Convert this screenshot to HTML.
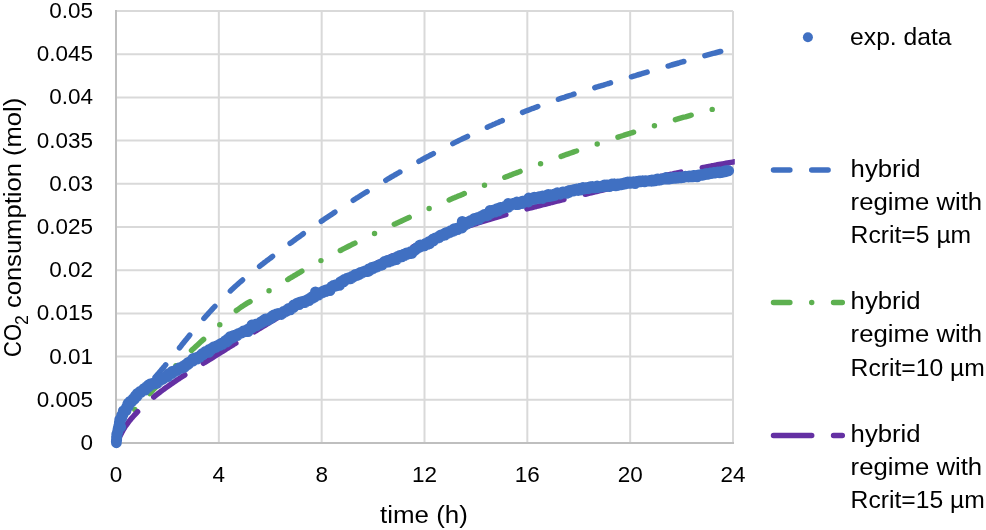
<!DOCTYPE html>
<html lang="en"><head><meta charset="utf-8"><title>CO2 consumption vs time</title>
<style>html,body{margin:0;padding:0;background:#fff}svg{display:block}</style></head>
<body>
<svg width="986" height="530" viewBox="0 0 986 530">
<rect width="986" height="530" fill="#fff"/>
<path d="M116.0 11.00H733.0M116.0 54.20H733.0M116.0 97.40H733.0M116.0 140.60H733.0M116.0 183.80H733.0M116.0 227.00H733.0M116.0 270.20H733.0M116.0 313.40H733.0M116.0 356.60H733.0M116.0 399.80H733.0M218.83 11.0V443.0M321.67 11.0V443.0M424.50 11.0V443.0M527.33 11.0V443.0M630.17 11.0V443.0M733.00 11.0V443.0" stroke="#D9D9D9" stroke-width="2" fill="none"/>
<path d="M116.0 10.0V444.0M115.0 443.0H734.0" stroke="#BFBFBF" stroke-width="2" fill="none"/>
<defs><clipPath id="pc"><rect x="110.0" y="0" width="624.8" height="451.0"/></clipPath></defs>
<g fill="none" stroke-width="5.46" stroke-linecap="round" stroke-linejoin="round">
<path d="M116.0 443.0 L116.1 441.1 L116.3 439.2 L116.6 437.3 L116.9 435.4 L117.3 433.6 L117.7 431.7 L118.2 429.9 L118.8 428.1 L119.4 426.4 L120.0 424.6 L120.7 422.9 L121.4 421.2 L122.2 419.5 L123.0 417.8 L123.9 416.2 L124.7 414.6 L125.7 413.0 L126.6 411.4 L127.6 409.8 L128.7 408.3 L129.7 406.7 L130.8 405.2 L131.9 403.7 L133.0 402.2 L134.1 400.8 L135.3 399.3 L136.5 397.9 L137.7 396.4 L138.9 395.0 L140.1 393.6 L141.3 392.2 L142.6 390.8 L143.8 389.4 L145.1 388.0 L146.4 386.7 L147.6 385.3 L148.9 383.9 L150.2 382.5 L151.5 381.1 L152.7 379.8 L154.0 378.4 L155.2 377.0 L156.5 375.6 L157.7 374.2 L159.0 372.8 L160.2 371.4 L161.4 369.9 L162.6 368.5 L163.8 367.1 L165.0 365.6 L166.2 364.2 L167.4 362.8 L168.6 361.3 L169.8 359.9 L171.0 358.4 L172.2 357.0 L173.3 355.5 L174.5 354.1 L175.7 352.6 L176.9 351.1 L178.0 349.7 L179.2 348.2 L180.4 346.8 L181.5 345.3 L182.7 343.8 L183.9 342.4 L185.0 340.9 L186.2 339.5 L187.4 338.0 L188.6 336.6 L189.7 335.1 L190.9 333.7 L192.1 332.3 L193.3 330.8 L194.5 329.4 L195.7 328.0 L196.9 326.5 L198.1 325.1 L199.3 323.7 L200.6 322.3 L201.8 320.9 L203.0 319.5 L204.2 318.1 L205.5 316.7 L206.7 315.3 L208.0 313.9 L209.2 312.5 L210.5 311.1 L211.8 309.8 L213.0 308.4 L214.3 307.0 L215.6 305.7 L216.9 304.3 L218.2 303.0 L219.5 301.6 L220.8 300.3 L222.2 299.0 L223.5 297.6 L224.8 296.3 L226.2 295.0 L227.5 293.7 L228.9 292.4 L230.2 291.1 L231.6 289.8 L233.0 288.5 L234.3 287.3 L235.7 286.0 L237.1 284.8 L238.5 283.5 L239.9 282.3 L241.3 281.1 L242.7 279.9 L244.1 278.7 L245.6 277.5 L247.0 276.3 L248.4 275.1 L249.9 274.0 L251.3 272.8 L252.8 271.7 L254.2 270.5 L255.7 269.4 L257.1 268.2 L258.6 267.1 L260.1 265.9 L261.5 264.8 L263.0 263.7 L264.5 262.5 L266.0 261.4 L267.5 260.2 L269.0 259.1 L270.5 258.0 L272.0 256.8 L273.5 255.7 L275.0 254.5 L276.5 253.4 L278.0 252.3 L279.5 251.1 L281.0 250.0 L282.5 248.9 L284.1 247.8 L285.6 246.6 L287.1 245.5 L288.6 244.4 L290.1 243.3 L291.7 242.2 L293.2 241.1 L294.7 240.0 L296.2 238.9 L297.7 237.8 L299.3 236.7 L300.8 235.6 L302.3 234.5 L303.8 233.4 L305.4 232.3 L306.9 231.3 L308.4 230.2 L310.0 229.1 L311.5 228.0 L313.0 227.0 L314.6 225.9 L316.1 224.9 L317.6 223.8 L319.2 222.7 L320.7 221.7 L322.2 220.6 L323.8 219.6 L325.3 218.6 L326.9 217.5 L328.4 216.5 L329.9 215.5 L331.5 214.4 L333.0 213.4 L334.6 212.4 L336.1 211.3 L337.7 210.3 L339.2 209.3 L340.8 208.3 L342.3 207.3 L343.9 206.3 L345.5 205.2 L347.0 204.2 L348.6 203.2 L350.1 202.2 L351.7 201.2 L353.3 200.2 L354.8 199.2 L356.4 198.2 L358.0 197.3 L359.6 196.3 L361.1 195.3 L362.7 194.3 L364.3 193.3 L365.9 192.3 L367.5 191.4 L369.0 190.4 L370.6 189.4 L372.2 188.4 L373.8 187.5 L375.4 186.5 L377.0 185.5 L378.6 184.6 L380.2 183.6 L381.8 182.6 L383.4 181.7 L385.0 180.7 L386.6 179.8 L388.2 178.8 L389.8 177.9 L391.4 176.9 L393.1 176.0 L394.7 175.0 L396.3 174.1 L397.9 173.2 L399.5 172.2 L401.2 171.3 L402.8 170.4 L404.4 169.4 L406.0 168.5 L407.7 167.6 L409.3 166.7 L410.9 165.8 L412.6 164.9 L414.2 163.9 L415.9 163.0 L417.5 162.1 L419.1 161.2 L420.8 160.3 L422.4 159.4 L424.1 158.5 L425.7 157.6 L427.4 156.7 L429.0 155.9 L430.7 155.0 L432.4 154.1 L434.0 153.2 L435.7 152.3 L437.3 151.5 L439.0 150.6 L440.7 149.7 L442.3 148.9 L444.0 148.0 L445.7 147.2 L447.4 146.3 L449.0 145.5 L450.7 144.6 L452.4 143.8 L454.1 142.9 L455.7 142.1 L457.4 141.3 L459.1 140.4 L460.8 139.6 L462.5 138.8 L464.2 138.0 L465.9 137.2 L467.6 136.4 L469.2 135.5 L470.9 134.7 L472.6 133.9 L474.3 133.1 L476.0 132.3 L477.7 131.6 L479.4 130.8 L481.1 130.0 L482.8 129.2 L484.5 128.4 L486.3 127.7 L488.0 126.9 L489.7 126.1 L491.4 125.4 L493.1 124.6 L494.8 123.9 L496.5 123.1 L498.2 122.4 L500.0 121.6 L501.7 120.9 L503.4 120.2 L505.1 119.4 L506.9 118.7 L508.6 118.0 L510.3 117.3 L512.0 116.6 L513.8 115.9 L515.5 115.2 L517.2 114.5 L519.0 113.8 L520.7 113.1 L522.4 112.4 L524.2 111.7 L525.9 111.0 L527.6 110.4 L529.4 109.7 L531.1 109.0 L532.9 108.4 L534.6 107.7 L536.3 107.1 L538.1 106.4 L539.8 105.8 L541.6 105.1 L543.3 104.5 L545.1 103.9 L546.8 103.3 L548.6 102.6 L550.3 102.0 L552.1 101.4 L553.8 100.8 L555.6 100.2 L557.4 99.6 L559.1 99.0 L560.9 98.4 L562.6 97.8 L564.4 97.3 L566.2 96.7 L567.9 96.1 L569.7 95.5 L571.4 95.0 L573.2 94.4 L575.0 93.8 L576.7 93.3 L578.5 92.7 L580.3 92.1 L582.1 91.6 L583.8 91.0 L585.6 90.5 L587.4 89.9 L589.1 89.4 L590.9 88.8 L592.7 88.3 L594.5 87.8 L596.3 87.2 L598.0 86.7 L599.8 86.1 L601.6 85.6 L603.4 85.1 L605.2 84.5 L606.9 84.0 L608.7 83.5 L610.5 82.9 L612.3 82.4 L614.1 81.9 L615.9 81.4 L617.6 80.8 L619.4 80.3 L621.2 79.8 L623.0 79.3 L624.8 78.7 L626.6 78.2 L628.4 77.7 L630.2 77.1 L632.0 76.6 L633.7 76.1 L635.5 75.6 L637.3 75.0 L639.1 74.5 L640.9 74.0 L642.7 73.4 L644.5 72.9 L646.3 72.4 L648.1 71.9 L649.9 71.3 L651.7 70.8 L653.5 70.3 L655.3 69.7 L657.1 69.2 L658.9 68.7 L660.7 68.2 L662.5 67.6 L664.3 67.1 L666.1 66.6 L667.9 66.1 L669.7 65.6 L671.5 65.0 L673.3 64.5 L675.1 64.0 L676.9 63.5 L678.7 63.0 L680.5 62.4 L682.4 61.9 L684.2 61.4 L686.0 60.9 L687.8 60.4 L689.6 59.9 L691.4 59.4 L693.2 58.9 L695.0 58.4 L696.8 57.9 L698.6 57.4 L700.4 56.9 L702.2 56.4 L704.1 55.9 L705.9 55.4 L707.7 54.9 L709.5 54.4 L711.3 53.9 L713.1 53.4 L714.9 53.0 L716.7 52.5 L718.5 52.0 L720.4 51.5 L722.2 51.0" stroke="#4070C2" stroke-dashoffset="-1.8" stroke-dasharray="16.38 21.84"/>
<path d="M116.0 443.0 L115.9 441.0 L116.0 439.1 L116.2 437.2 L116.4 435.4 L116.8 433.7 L117.3 432.0 L117.9 430.4 L118.6 428.8 L119.3 427.3 L120.1 425.8 L121.0 424.4 L122.0 423.0 L123.0 421.6 L124.0 420.3 L125.1 419.0 L126.3 417.7 L127.5 416.5 L128.7 415.2 L129.9 414.0 L131.1 412.8 L132.4 411.7 L133.7 410.5 L134.9 409.3 L136.2 408.0 L137.4 406.8 L138.6 405.5 L139.9 404.3 L141.1 403.0 L142.3 401.7 L143.5 400.4 L144.7 399.1 L145.9 397.8 L147.2 396.5 L148.4 395.2 L149.5 393.9 L150.7 392.6 L151.9 391.3 L153.1 390.0 L154.3 388.7 L155.5 387.4 L156.7 386.1 L157.9 384.8 L159.1 383.5 L160.3 382.2 L161.5 380.9 L162.7 379.6 L163.9 378.3 L165.1 377.0 L166.3 375.8 L167.5 374.5 L168.7 373.2 L169.9 371.9 L171.1 370.7 L172.3 369.4 L173.6 368.1 L174.8 366.9 L176.0 365.6 L177.3 364.4 L178.5 363.1 L179.8 361.9 L181.0 360.6 L182.3 359.4 L183.5 358.2 L184.8 356.9 L186.1 355.7 L187.3 354.5 L188.6 353.3 L189.9 352.1 L191.1 350.8 L192.4 349.6 L193.7 348.4 L195.0 347.2 L196.3 346.0 L197.5 344.9 L198.8 343.7 L200.1 342.5 L201.4 341.3 L202.7 340.2 L204.0 339.0 L205.2 337.8 L206.5 336.7 L207.8 335.5 L209.1 334.4 L210.4 333.2 L211.7 332.0 L213.0 330.9 L214.3 329.7 L215.6 328.6 L216.9 327.4 L218.2 326.2 L219.5 325.0 L220.8 323.8 L222.2 322.6 L223.5 321.4 L224.8 320.2 L226.2 319.0 L227.5 317.8 L228.9 316.6 L230.2 315.5 L231.6 314.3 L233.0 313.2 L234.3 312.1 L235.7 311.0 L237.1 309.9 L238.6 308.9 L240.0 307.9 L241.4 306.9 L242.8 306.0 L244.3 305.0 L245.7 304.1 L247.2 303.2 L248.7 302.3 L250.1 301.5 L251.6 300.6 L253.1 299.7 L254.6 298.9 L256.1 298.1 L257.6 297.2 L259.1 296.4 L260.6 295.5 L262.1 294.7 L263.6 293.9 L265.1 293.0 L266.6 292.1 L268.2 291.3 L269.7 290.4 L271.2 289.5 L272.7 288.6 L274.3 287.7 L275.8 286.8 L277.3 285.8 L278.9 284.9 L280.4 284.0 L281.9 283.0 L283.5 282.1 L285.0 281.2 L286.5 280.2 L288.1 279.3 L289.6 278.4 L291.1 277.5 L292.7 276.6 L294.2 275.7 L295.7 274.8 L297.2 273.9 L298.8 273.0 L300.3 272.1 L301.8 271.2 L303.4 270.4 L304.9 269.5 L306.4 268.6 L307.9 267.8 L309.5 266.9 L311.0 266.1 L312.5 265.2 L314.1 264.4 L315.6 263.5 L317.1 262.7 L318.7 261.9 L320.2 261.0 L321.7 260.2 L323.3 259.4 L324.8 258.6 L326.4 257.7 L327.9 256.9 L329.5 256.1 L331.0 255.3 L332.6 254.5 L334.1 253.7 L335.7 252.9 L337.2 252.1 L338.8 251.3 L340.3 250.5 L341.9 249.7 L343.4 248.9 L345.0 248.1 L346.6 247.3 L348.1 246.5 L349.7 245.7 L351.3 244.9 L352.8 244.1 L354.4 243.4 L356.0 242.6 L357.6 241.8 L359.1 241.0 L360.7 240.2 L362.3 239.5 L363.9 238.7 L365.4 237.9 L367.0 237.2 L368.6 236.4 L370.2 235.6 L371.8 234.9 L373.4 234.1 L374.9 233.4 L376.5 232.6 L378.1 231.9 L379.7 231.1 L381.3 230.4 L382.9 229.6 L384.5 228.9 L386.1 228.1 L387.6 227.4 L389.2 226.6 L390.8 225.9 L392.4 225.2 L394.0 224.4 L395.6 223.7 L397.2 222.9 L398.8 222.2 L400.4 221.5 L402.0 220.7 L403.6 220.0 L405.2 219.3 L406.8 218.6 L408.4 217.8 L410.0 217.1 L411.6 216.4 L413.2 215.7 L414.8 215.0 L416.4 214.2 L418.0 213.5 L419.6 212.8 L421.2 212.1 L422.8 211.4 L424.4 210.7 L426.1 210.0 L427.7 209.3 L429.3 208.5 L430.9 207.8 L432.5 207.1 L434.1 206.4 L435.7 205.7 L437.3 205.0 L438.9 204.3 L440.6 203.6 L442.2 203.0 L443.8 202.3 L445.4 201.6 L447.0 200.9 L448.6 200.2 L450.2 199.5 L451.9 198.8 L453.5 198.1 L455.1 197.4 L456.7 196.8 L458.3 196.1 L460.0 195.4 L461.6 194.7 L463.2 194.1 L464.8 193.4 L466.5 192.7 L468.1 192.0 L469.7 191.4 L471.3 190.7 L473.0 190.0 L474.6 189.4 L476.2 188.7 L477.8 188.0 L479.5 187.4 L481.1 186.7 L482.7 186.1 L484.3 185.4 L486.0 184.8 L487.6 184.1 L489.2 183.4 L490.9 182.8 L492.5 182.1 L494.1 181.5 L495.8 180.9 L497.4 180.2 L499.0 179.6 L500.7 178.9 L502.3 178.3 L504.0 177.6 L505.6 177.0 L507.2 176.4 L508.9 175.7 L510.5 175.1 L512.1 174.5 L513.8 173.8 L515.4 173.2 L517.1 172.6 L518.7 172.0 L520.4 171.3 L522.0 170.7 L523.6 170.1 L525.3 169.5 L526.9 168.9 L528.6 168.2 L530.2 167.6 L531.9 167.0 L533.5 166.4 L535.2 165.8 L536.8 165.2 L538.5 164.6 L540.1 164.0 L541.8 163.4 L543.4 162.7 L545.1 162.1 L546.7 161.5 L548.4 160.9 L550.0 160.3 L551.7 159.7 L553.3 159.2 L555.0 158.6 L556.6 158.0 L558.3 157.4 L559.9 156.8 L561.6 156.2 L563.3 155.6 L564.9 155.0 L566.6 154.4 L568.2 153.9 L569.9 153.3 L571.5 152.7 L573.2 152.1 L574.9 151.5 L576.5 151.0 L578.2 150.4 L579.8 149.8 L581.5 149.3 L583.2 148.7 L584.8 148.1 L586.5 147.6 L588.2 147.0 L589.8 146.4 L591.5 145.9 L593.2 145.3 L594.8 144.7 L596.5 144.2 L598.2 143.6 L599.8 143.1 L601.5 142.5 L603.2 142.0 L604.8 141.4 L606.5 140.9 L608.2 140.3 L609.8 139.8 L611.5 139.2 L613.2 138.7 L614.9 138.2 L616.5 137.6 L618.2 137.1 L619.9 136.5 L621.6 136.0 L623.2 135.5 L624.9 134.9 L626.6 134.4 L628.3 133.9 L629.9 133.4 L631.6 132.8 L633.3 132.3 L635.0 131.8 L636.6 131.3 L638.3 130.7 L640.0 130.2 L641.7 129.7 L643.4 129.2 L645.0 128.7 L646.7 128.2 L648.4 127.6 L650.1 127.1 L651.8 126.6 L653.4 126.1 L655.1 125.6 L656.8 125.1 L658.5 124.6 L660.2 124.1 L661.9 123.6 L663.6 123.1 L665.2 122.6 L666.9 122.1 L668.6 121.6 L670.3 121.1 L672.0 120.6 L673.7 120.1 L675.4 119.7 L677.1 119.2 L678.7 118.7 L680.4 118.2 L682.1 117.7 L683.8 117.2 L685.5 116.8 L687.2 116.3 L688.9 115.8 L690.6 115.3 L692.3 114.9 L694.0 114.4 L695.7 113.9 L697.3 113.4 L699.0 113.0 L700.7 112.5 L702.4 112.0 L704.1 111.6 L705.8 111.1 L707.5 110.7 L709.2 110.2 L710.9 109.7 L712.6 109.3" stroke="#5DB050" stroke-dashoffset="-1.8" stroke-dasharray="16.38 21.84 0 21.84"/>
<path clip-path="url(#pc)" d="M116.0 443.0 L117.0 441.5 L118.0 439.9 L118.8 438.3 L119.6 436.8 L120.4 435.2 L121.2 433.7 L122.0 432.1 L122.8 430.6 L123.7 429.1 L124.6 427.7 L125.5 426.2 L126.5 424.8 L127.6 423.3 L128.6 421.9 L129.7 420.6 L130.8 419.2 L132.0 417.8 L133.2 416.5 L134.4 415.2 L135.6 413.9 L136.8 412.6 L138.0 411.3 L139.3 410.1 L140.5 408.8 L141.8 407.6 L143.1 406.4 L144.4 405.2 L145.7 404.0 L147.0 402.8 L148.3 401.6 L149.6 400.5 L151.0 399.4 L152.3 398.2 L153.7 397.1 L155.0 396.0 L156.4 394.9 L157.8 393.8 L159.2 392.8 L160.6 391.7 L162.0 390.6 L163.4 389.6 L164.8 388.5 L166.2 387.5 L167.7 386.5 L169.1 385.5 L170.5 384.5 L172.0 383.5 L173.4 382.5 L174.9 381.5 L176.3 380.5 L177.8 379.5 L179.3 378.6 L180.8 377.6 L182.2 376.6 L183.7 375.7 L185.2 374.7 L186.7 373.8 L188.2 372.8 L189.7 371.9 L191.1 370.9 L192.6 370.0 L194.1 369.1 L195.6 368.1 L197.1 367.2 L198.6 366.3 L200.1 365.3 L201.6 364.4 L203.1 363.5 L204.6 362.5 L206.2 361.6 L207.7 360.7 L209.2 359.7 L210.7 358.8 L212.2 357.9 L213.7 356.9 L215.2 356.0 L216.7 355.0 L218.2 354.1 L219.7 353.2 L221.2 352.2 L222.7 351.3 L224.2 350.4 L225.7 349.4 L227.2 348.5 L228.7 347.6 L230.2 346.6 L231.7 345.7 L233.2 344.8 L234.7 343.8 L236.3 342.9 L237.8 342.0 L239.3 341.0 L240.8 340.1 L242.3 339.2 L243.8 338.3 L245.3 337.3 L246.8 336.4 L248.3 335.5 L249.8 334.5 L251.3 333.6 L252.9 332.7 L254.4 331.8 L255.9 330.8 L257.4 329.9 L258.9 329.0 L260.4 328.1 L261.9 327.2 L263.5 326.2 L265.0 325.3 L266.5 324.4 L268.0 323.5 L269.5 322.6 L271.0 321.6 L272.6 320.7 L274.1 319.8 L275.6 318.9 L277.1 318.0 L278.6 317.1 L280.2 316.2 L281.7 315.3 L283.2 314.4 L284.7 313.5 L286.3 312.6 L287.8 311.7 L289.3 310.8 L290.8 309.9 L292.4 309.0 L293.9 308.1 L295.4 307.2 L297.0 306.3 L298.5 305.4 L300.0 304.5 L301.5 303.6 L303.1 302.7 L304.6 301.8 L306.2 301.0 L307.7 300.1 L309.2 299.2 L310.8 298.3 L312.3 297.4 L313.8 296.6 L315.4 295.7 L316.9 294.8 L318.5 294.0 L320.0 293.1 L321.5 292.2 L323.1 291.4 L324.6 290.5 L326.2 289.7 L327.7 288.8 L329.3 288.0 L330.8 287.1 L332.4 286.3 L333.9 285.4 L335.5 284.6 L337.0 283.7 L338.6 282.9 L340.1 282.1 L341.7 281.2 L343.2 280.4 L344.8 279.6 L346.4 278.7 L347.9 277.9 L349.5 277.1 L351.0 276.3 L352.6 275.5 L354.2 274.7 L355.7 273.9 L357.3 273.0 L358.9 272.2 L360.4 271.4 L362.0 270.6 L363.6 269.9 L365.2 269.1 L366.7 268.3 L368.3 267.5 L369.9 266.7 L371.5 265.9 L373.0 265.2 L374.6 264.4 L376.2 263.6 L377.8 262.8 L379.4 262.1 L380.9 261.3 L382.5 260.6 L384.1 259.8 L385.7 259.1 L387.3 258.3 L388.9 257.6 L390.5 256.8 L392.1 256.1 L393.7 255.4 L395.3 254.6 L396.9 253.9 L398.5 253.2 L400.1 252.5 L401.7 251.8 L403.3 251.0 L404.9 250.3 L406.5 249.6 L408.1 248.9 L409.7 248.2 L411.3 247.5 L412.9 246.9 L414.6 246.2 L416.2 245.5 L417.8 244.8 L419.4 244.1 L421.0 243.5 L422.6 242.8 L424.3 242.2 L425.9 241.5 L427.5 240.9 L429.2 240.2 L430.8 239.6 L432.4 238.9 L434.1 238.3 L435.7 237.7 L437.3 237.0 L439.0 236.4 L440.6 235.8 L442.2 235.2 L443.9 234.6 L445.5 234.0 L447.2 233.4 L448.8 232.8 L450.5 232.2 L452.1 231.6 L453.8 231.0 L455.4 230.4 L457.1 229.9 L458.7 229.3 L460.4 228.7 L462.1 228.2 L463.7 227.6 L465.4 227.1 L467.1 226.5 L468.7 226.0 L470.4 225.4 L472.1 224.9 L473.7 224.3 L475.4 223.8 L477.1 223.3 L478.8 222.7 L480.4 222.2 L482.1 221.7 L483.8 221.2 L485.5 220.7 L487.1 220.2 L488.8 219.7 L490.5 219.1 L492.2 218.6 L493.9 218.1 L495.6 217.7 L497.3 217.2 L498.9 216.7 L500.6 216.2 L502.3 215.7 L504.0 215.2 L505.7 214.7 L507.4 214.3 L509.1 213.8 L510.8 213.3 L512.5 212.8 L514.2 212.4 L515.9 211.9 L517.6 211.4 L519.3 211.0 L521.0 210.5 L522.7 210.1 L524.4 209.6 L526.1 209.1 L527.8 208.7 L529.5 208.2 L531.2 207.8 L533.0 207.3 L534.7 206.9 L536.4 206.5 L538.1 206.0 L539.8 205.6 L541.5 205.1 L543.2 204.7 L544.9 204.3 L546.7 203.8 L548.4 203.4 L550.1 203.0 L551.8 202.5 L553.5 202.1 L555.2 201.7 L557.0 201.2 L558.7 200.8 L560.4 200.4 L562.1 199.9 L563.8 199.5 L565.6 199.1 L567.3 198.7 L569.0 198.3 L570.7 197.8 L572.5 197.4 L574.2 197.0 L575.9 196.6 L577.6 196.1 L579.4 195.7 L581.1 195.3 L582.8 194.9 L584.5 194.5 L586.3 194.0 L588.0 193.6 L589.7 193.2 L591.4 192.8 L593.2 192.4 L594.9 191.9 L596.6 191.5 L598.4 191.1 L600.1 190.7 L601.8 190.3 L603.6 189.9 L605.3 189.4 L607.0 189.0 L608.7 188.6 L610.5 188.2 L612.2 187.8 L613.9 187.4 L615.7 186.9 L617.4 186.5 L619.1 186.1 L620.9 185.7 L622.6 185.3 L624.3 184.9 L626.1 184.5 L627.8 184.1 L629.5 183.7 L631.2 183.3 L633.0 182.9 L634.7 182.5 L636.4 182.0 L638.2 181.6 L639.9 181.2 L641.6 180.8 L643.4 180.4 L645.1 180.0 L646.8 179.7 L648.5 179.3 L650.3 178.9 L652.0 178.5 L653.7 178.1 L655.5 177.7 L657.2 177.3 L658.9 176.9 L660.6 176.5 L662.4 176.1 L664.1 175.8 L665.8 175.4 L667.6 175.0 L669.3 174.6 L671.0 174.2 L672.7 173.9 L674.5 173.5 L676.2 173.1 L677.9 172.8 L679.6 172.4 L681.3 172.0 L683.1 171.7 L684.8 171.3 L686.5 170.9 L688.2 170.6 L689.9 170.2 L691.7 169.9 L693.4 169.5 L695.1 169.2 L696.8 168.8 L698.5 168.5 L700.3 168.1 L702.0 167.8 L703.7 167.4 L705.4 167.1 L707.1 166.8 L708.8 166.4 L710.5 166.1 L712.2 165.8 L714.0 165.5 L715.7 165.1 L717.4 164.8 L719.1 164.5 L720.8 164.2 L722.5 163.9 L724.2 163.6 L725.9 163.3 L727.6 163.0 L729.3 162.7 L731.0 162.4 L732.7 162.1 L734.4 161.8 L736.1 161.5 L737.8 161.2 L739.5 160.9 L741.2 160.6 L742.9 160.4 L744.6 160.1" stroke="#6430A3" stroke-dasharray="38.22 21.84"/>
</g>
<path d="M116.4 442.8h0M116.4 442.5h0M116.3 442.1h0M116.3 441.8h0M116.3 441.5h0M116.3 441.1h0M116.5 440.8h0M116.7 440.5h0M116.4 440.2h0M116.4 439.8h0M116.6 439.5h0M116.7 439.2h0M116.6 438.8h0M116.5 438.5h0M116.7 438.2h0M116.8 437.9h0M116.5 437.5h0M116.7 437.2h0M116.5 436.8h0M116.6 436.5h0M116.6 436.2h0M116.9 435.9h0M116.8 435.5h0M117.1 435.2h0M117.1 434.9h0M117.1 434.6h0M116.7 434.2h0M117.2 433.9h0M117.3 433.6h0M117.4 433.3h0M117.2 432.9h0M117.4 432.6h0M117.4 432.3h0M117.5 432.0h0M118.0 431.7h0M117.6 431.3h0M117.9 431.0h0M118.2 430.7h0M117.9 430.4h0M118.1 430.1h0M118.2 429.7h0M118.3 429.4h0M118.0 429.0h0M118.4 428.8h0M118.8 428.5h0M118.2 428.0h0M118.8 427.9h0M118.7 427.5h0M118.6 427.1h0M119.4 427.0h0M120.8 427.0h0M118.7 426.1h0M119.1 425.9h0M119.3 425.6h0M119.1 425.2h0M119.6 425.0h0M119.3 424.6h0M119.5 424.3h0M119.8 424.1h0M119.3 423.5h0M119.6 423.3h0M119.4 422.9h0M119.7 422.6h0M119.3 422.2h0M119.6 421.9h0M119.8 421.6h0M120.2 421.4h0M120.4 421.1h0M119.7 420.5h0M119.9 420.3h0M120.5 420.1h0M119.7 419.5h0M120.3 419.3h0M120.6 419.1h0M121.2 418.9h0M121.1 418.6h0M120.8 418.1h0M120.9 417.8h0M121.1 417.5h0M121.9 417.4h0M121.3 416.8h0M121.4 416.5h0M121.8 416.3h0M121.8 416.0h0M121.9 415.6h0M121.6 415.2h0M122.2 415.1h0M122.2 414.7h0M123.0 414.7h0M122.9 414.3h0M122.8 413.9h0M123.2 413.7h0M122.9 413.2h0M123.7 413.2h0M123.4 412.7h0M123.9 412.5h0M123.2 411.8h0M124.1 411.9h0M123.3 411.2h0M123.3 410.8h0M124.3 410.9h0M124.2 410.5h0M124.9 410.5h0M126.1 410.8h0M124.8 409.7h0M125.1 409.5h0M125.7 409.4h0M126.1 409.2h0M125.9 408.8h0M126.1 408.5h0M126.7 408.5h0M126.8 408.2h0M126.3 407.5h0M126.9 407.5h0M127.2 407.2h0M126.8 406.6h0M127.6 406.7h0M127.3 406.1h0M128.3 406.4h0M128.1 405.8h0M128.2 405.5h0M128.1 405.0h0M128.4 404.9h0M127.7 404.0h0M128.3 404.0h0M129.1 404.2h0M128.2 403.1h0M129.7 403.8h0M128.7 402.7h0M130.0 403.2h0M129.5 402.4h0M130.4 402.7h0M130.4 402.2h0M129.9 401.4h0M131.3 402.1h0M131.6 402.0h0M131.2 401.2h0M131.4 400.9h0M131.7 400.7h0M131.6 400.2h0M132.7 400.7h0M132.3 399.9h0M132.7 399.9h0M132.6 399.4h0M132.9 399.2h0M132.9 398.7h0M134.2 399.4h0M133.8 398.7h0M134.5 398.8h0M134.3 398.2h0M134.3 397.7h0M134.6 397.6h0M134.7 397.3h0M135.2 397.2h0M135.2 396.8h0M135.5 396.6h0M135.3 395.9h0M135.7 395.9h0M136.8 396.6h0M136.2 395.4h0M136.3 395.0h0M137.0 395.3h0M137.6 395.5h0M136.8 394.1h0M137.5 394.4h0M137.6 394.0h0M137.4 393.3h0M138.5 394.1h0M138.5 393.6h0M138.8 393.4h0M138.7 392.8h0M139.4 393.1h0M139.3 392.4h0M139.7 392.4h0M139.6 391.8h0M139.9 391.5h0M141.0 392.4h0M140.6 391.4h0M141.1 391.6h0M141.3 391.3h0M141.4 390.9h0M141.7 390.7h0M142.3 391.0h0M142.3 390.4h0M142.6 390.3h0M142.9 390.1h0M143.6 390.5h0M143.7 390.1h0M143.8 389.7h0M143.8 389.1h0M143.8 388.6h0M145.2 390.1h0M145.1 389.2h0M145.0 388.5h0M145.5 388.7h0M145.8 388.6h0M146.1 388.4h0M146.4 388.2h0M146.2 387.4h0M147.0 388.1h0M146.5 386.6h0M147.4 387.4h0M147.5 387.0h0M147.9 387.0h0M148.4 387.3h0M148.6 386.9h0M148.2 385.5h0M148.3 385.0h0M149.3 386.1h0M149.1 385.1h0M149.6 385.4h0M150.2 385.7h0M149.8 384.3h0M150.0 384.0h0M150.9 385.0h0M151.2 384.8h0M151.4 384.5h0M151.8 384.6h0M151.9 384.0h0M152.0 383.6h0M152.7 384.2h0M152.8 383.7h0M152.9 383.2h0M153.8 384.2h0M154.0 383.8h0M154.4 383.9h0M154.3 383.1h0M154.7 383.1h0M154.9 382.8h0M155.3 382.7h0M155.9 383.1h0M155.9 382.5h0M156.5 382.8h0M156.7 382.7h0M157.5 383.3h0M156.8 381.5h0M157.7 382.4h0M157.7 381.7h0M158.0 381.6h0M157.9 380.7h0M158.4 380.9h0M159.0 381.3h0M159.0 380.7h0M159.3 380.6h0M159.5 380.2h0M160.2 380.7h0M160.1 380.0h0M159.8 378.8h0M160.5 379.3h0M160.4 378.5h0M160.3 377.7h0M161.4 378.9h0M162.2 379.6h0M162.1 378.8h0M162.1 378.1h0M162.4 378.1h0M163.3 378.9h0M163.3 378.3h0M163.6 378.1h0M163.8 377.9h0M164.2 377.8h0M164.7 378.0h0M164.9 377.8h0M165.1 377.5h0M165.0 376.7h0M165.7 377.3h0M165.7 376.6h0M166.5 377.2h0M166.1 376.0h0M166.7 376.3h0M167.0 376.2h0M166.9 375.4h0M168.1 376.7h0M168.3 376.4h0M168.0 375.3h0M168.6 375.7h0M168.8 375.3h0M168.2 373.7h0M169.3 374.9h0M169.4 374.5h0M169.7 374.4h0M169.7 373.6h0M170.1 373.8h0M170.4 373.6h0M171.1 374.1h0M171.1 373.5h0M171.3 373.1h0M172.0 373.6h0M171.6 372.5h0M171.9 372.3h0M171.8 371.5h0M173.0 372.9h0M173.1 372.4h0M173.4 372.2h0M173.6 371.9h0M173.7 371.5h0M174.1 371.4h0M174.2 371.0h0M174.5 370.9h0M174.9 370.9h0M175.6 371.4h0M175.6 370.8h0M175.7 370.4h0M175.9 370.0h0M176.2 369.8h0M177.1 370.7h0M177.1 370.1h0M177.2 369.7h0M177.4 369.4h0M177.5 368.9h0M178.1 369.2h0M178.6 369.5h0M178.6 368.7h0M178.9 368.7h0M179.2 368.5h0M179.6 368.5h0M179.4 367.6h0M180.1 368.0h0M180.2 367.6h0M181.0 368.3h0M180.8 367.3h0M181.5 367.8h0M182.0 368.1h0M181.8 367.1h0M182.0 366.8h0M182.6 367.1h0M182.8 366.8h0M182.8 366.2h0M183.5 366.8h0M184.3 367.4h0M183.9 366.1h0M184.2 366.0h0M184.3 365.4h0M184.9 365.9h0M184.8 365.0h0M185.1 364.9h0M186.0 365.8h0M185.7 364.5h0M186.5 365.3h0M186.9 365.3h0M186.8 364.5h0M187.1 364.4h0M187.8 364.8h0M187.4 363.6h0M187.6 363.3h0M187.6 362.7h0M188.3 363.2h0M189.0 363.7h0M189.1 363.2h0M188.8 362.2h0M189.1 362.0h0M189.5 362.0h0M190.0 362.2h0M190.2 361.8h0M190.6 361.8h0M190.8 361.6h0M190.9 361.2h0M191.3 361.1h0M191.6 361.0h0M191.8 360.7h0M192.2 360.7h0M192.9 361.2h0M192.8 360.4h0M192.9 359.9h0M192.7 358.9h0M193.6 359.7h0M193.2 358.4h0M193.6 358.5h0M194.5 359.4h0M194.8 359.2h0M194.9 358.7h0M194.7 357.8h0M195.4 358.3h0M195.6 358.1h0M196.3 358.6h0M197.1 359.2h0M196.8 358.1h0M196.9 357.6h0M197.1 357.2h0M197.7 357.7h0M198.0 357.5h0M198.0 356.9h0M198.7 357.3h0M198.6 356.6h0M199.5 357.5h0M199.8 357.3h0M200.1 357.2h0M199.9 356.2h0M200.5 356.5h0M200.6 356.0h0M200.8 355.7h0M201.1 355.5h0M201.0 354.9h0M201.3 354.6h0M202.2 355.4h0M202.1 354.8h0M202.5 354.7h0M203.0 354.9h0M202.5 353.4h0M203.0 353.7h0M203.5 353.9h0M203.9 353.8h0M203.9 353.3h0M204.6 353.8h0M204.7 353.2h0M204.5 352.3h0M204.9 352.3h0M205.7 353.0h0M205.9 352.7h0M205.5 351.4h0M206.7 352.8h0M206.8 352.3h0M207.3 352.5h0M207.1 351.5h0M207.4 351.4h0M207.5 350.8h0M208.8 352.4h0M208.3 350.9h0M209.1 351.6h0M208.8 350.4h0M209.3 350.6h0M209.0 349.5h0M209.7 350.0h0M210.3 350.4h0M210.0 349.2h0M210.9 350.1h0M210.9 349.5h0M210.8 348.7h0M211.3 348.8h0M211.6 348.6h0M212.0 348.6h0M212.1 348.2h0M212.3 347.9h0M212.7 348.0h0M212.8 347.5h0M213.0 347.2h0M213.7 347.7h0M214.2 348.0h0M213.9 346.7h0M214.6 347.3h0M214.7 346.8h0M214.9 346.5h0M215.7 347.2h0M215.6 346.4h0M216.5 347.3h0M216.2 346.0h0M216.8 346.5h0M216.9 346.0h0M217.1 345.6h0M217.8 346.2h0M217.9 345.7h0M218.4 345.9h0M218.5 345.5h0M218.5 344.9h0M219.1 345.2h0M219.5 345.2h0M220.0 345.5h0M219.8 344.4h0M220.4 344.7h0M220.2 343.8h0M220.6 343.8h0M221.0 343.8h0M221.1 343.3h0M221.9 344.0h0M222.5 344.4h0M222.0 343.0h0M222.4 343.0h0M222.8 343.0h0M223.0 342.7h0M223.7 343.2h0M223.6 342.5h0M223.9 342.3h0M224.6 342.8h0M224.5 341.9h0M225.1 342.3h0M225.0 341.4h0M225.2 341.1h0M225.3 340.6h0M226.5 342.2h0M226.2 340.9h0M226.6 341.0h0M226.8 340.7h0M227.1 340.6h0M227.3 340.3h0M228.1 341.0h0M227.6 339.4h0M227.7 338.9h0M228.1 339.0h0M228.3 338.6h0M229.1 339.5h0M229.4 339.3h0M229.2 338.3h0M229.4 337.9h0M230.0 338.2h0M230.7 338.9h0M229.9 336.7h0M231.1 338.2h0M230.9 337.2h0M231.8 338.1h0M231.5 336.9h0M232.0 337.2h0M232.0 336.4h0M232.4 336.5h0M233.3 337.5h0M233.5 337.1h0M233.4 336.3h0M233.6 335.9h0M233.6 335.3h0M234.3 335.8h0M234.7 335.9h0M235.0 335.7h0M235.3 335.5h0M235.3 334.8h0M235.8 335.2h0M236.1 335.0h0M236.8 335.5h0M237.2 335.6h0M237.0 334.5h0M237.1 334.1h0M237.6 334.3h0M237.8 333.9h0M238.0 333.7h0M238.5 333.9h0M238.6 333.3h0M239.3 334.0h0M239.5 333.5h0M239.9 333.6h0M240.1 333.3h0M240.2 332.9h0M240.5 332.7h0M241.0 332.9h0M241.2 332.7h0M241.8 333.0h0M242.0 332.7h0M242.0 332.0h0M242.7 332.5h0M242.6 331.7h0M243.1 332.0h0M243.5 332.0h0M243.3 331.0h0M244.2 331.9h0M244.5 331.8h0M244.7 331.5h0M245.0 331.3h0M245.3 331.2h0M245.4 330.7h0M245.9 330.9h0M246.1 330.6h0M246.6 330.8h0M246.5 330.0h0M247.2 330.6h0M248.1 331.7h0M247.7 330.1h0M247.9 329.7h0M248.4 330.1h0M248.2 328.8h0M248.9 329.7h0M249.2 329.4h0M249.5 329.2h0M249.8 329.1h0M249.8 328.4h0M250.2 328.4h0M250.7 328.7h0M250.9 328.4h0M251.1 328.1h0M251.0 327.1h0M251.8 327.9h0M252.2 328.0h0M252.4 327.8h0M252.5 327.2h0M251.8 325.0h0M253.2 327.2h0M253.3 326.4h0M253.0 325.1h0M253.9 326.3h0M253.8 325.2h0M254.1 325.1h0M254.5 325.3h0M255.3 326.1h0M255.2 325.1h0M255.6 325.3h0M256.3 325.9h0M256.5 325.6h0M256.4 324.7h0M256.7 324.5h0M256.8 323.8h0M257.2 324.0h0M257.8 324.4h0M258.1 324.3h0M258.3 324.0h0M258.8 324.3h0M258.7 323.3h0M259.2 323.5h0M259.7 323.8h0M259.9 323.6h0M260.4 323.7h0M260.5 323.2h0M260.6 322.7h0M261.1 322.9h0M261.1 322.1h0M261.2 321.6h0M262.0 322.6h0M262.2 322.1h0M262.6 322.2h0M262.4 321.0h0M263.0 321.5h0M263.2 321.3h0M263.5 321.0h0M263.4 320.2h0M264.2 321.0h0M264.8 321.4h0M264.9 321.0h0M265.0 320.4h0M265.4 320.5h0M265.9 320.7h0M265.4 318.8h0M266.3 320.0h0M266.7 320.2h0M267.1 320.1h0M267.6 320.4h0M267.7 320.0h0M267.8 319.4h0M268.1 319.2h0M268.5 319.3h0M268.5 318.5h0M268.9 318.6h0M269.4 318.9h0M270.0 319.2h0M269.7 318.0h0M270.1 317.9h0M270.4 317.9h0M271.0 318.3h0M270.9 317.5h0M271.6 318.1h0M271.3 316.7h0M271.8 316.9h0M272.0 316.8h0M272.6 317.1h0M272.9 317.0h0M272.6 315.6h0M273.0 315.8h0M273.6 316.2h0M273.7 315.5h0M273.7 315.0h0M274.6 316.0h0M274.8 315.6h0M275.1 315.5h0M275.1 314.8h0M275.8 315.4h0M275.8 314.6h0M276.4 315.2h0M276.2 314.0h0M276.6 313.9h0M277.1 314.4h0M277.2 313.8h0M277.9 314.4h0M278.1 314.2h0M278.1 313.4h0M278.7 313.9h0M279.0 313.6h0M279.6 314.1h0M279.6 313.3h0M279.9 313.3h0M280.7 314.1h0M281.3 314.5h0M281.5 314.3h0M281.4 313.3h0M281.7 313.3h0M282.4 313.8h0M282.3 312.9h0M282.4 312.3h0M283.0 312.8h0M283.4 312.8h0M283.3 312.0h0M283.4 311.5h0M283.8 311.4h0M284.6 312.3h0M284.5 311.4h0M285.0 311.6h0M285.3 311.6h0M285.7 311.6h0M285.8 311.0h0M286.3 311.2h0M286.2 310.3h0M286.6 310.4h0M286.7 309.9h0M287.5 310.8h0M287.5 310.1h0M287.6 309.5h0M288.0 309.6h0M288.3 309.5h0M288.8 309.7h0M288.6 308.4h0M289.0 308.5h0M289.4 308.7h0M290.4 309.9h0M290.3 309.0h0M290.3 308.3h0M290.8 308.5h0M291.4 309.0h0M291.1 307.7h0M291.4 307.4h0M292.0 308.0h0M292.1 307.5h0M292.5 307.4h0M292.5 306.6h0M293.3 307.6h0M293.6 307.4h0M293.6 306.6h0M293.9 306.5h0M293.5 305.0h0M294.5 306.2h0M294.5 305.6h0M295.0 305.8h0M295.3 305.7h0M295.4 305.1h0M295.3 304.3h0M296.1 305.1h0M296.2 304.4h0M296.6 304.5h0M296.8 304.2h0M297.1 304.2h0M297.0 303.1h0M298.1 304.7h0M298.2 304.0h0M298.7 304.3h0M299.2 304.6h0M299.0 303.5h0M298.9 302.5h0M299.4 302.8h0M299.7 302.6h0M300.2 302.8h0M300.6 303.0h0M300.4 301.8h0M301.3 302.9h0M301.2 301.9h0M301.9 302.7h0M302.2 302.4h0M302.4 302.2h0M302.8 302.2h0M303.0 301.8h0M303.3 301.7h0M303.3 301.1h0M304.1 301.8h0M304.8 302.6h0M305.2 302.5h0M305.3 302.1h0M305.5 301.6h0M305.4 300.8h0M306.3 301.7h0M306.2 300.8h0M306.5 300.7h0M306.7 300.4h0M307.1 300.5h0M307.3 300.0h0M307.6 300.0h0M307.7 299.4h0M308.1 299.6h0M309.1 300.7h0M308.8 299.4h0M309.0 299.1h0M309.5 299.3h0M309.8 299.3h0M309.7 298.2h0M310.2 298.5h0M310.8 298.9h0M310.9 298.4h0M311.1 298.2h0M311.8 298.8h0M311.5 297.5h0M312.0 297.8h0M312.2 297.3h0M313.0 298.1h0M312.4 296.3h0M313.0 296.8h0M313.3 296.7h0M313.9 297.1h0M314.2 296.9h0M314.7 297.1h0M314.2 295.5h0M315.1 296.5h0M315.1 295.8h0M315.3 295.5h0M315.9 295.9h0M315.8 295.0h0M315.8 294.3h0M316.5 295.0h0M315.4 291.9h0M317.1 294.5h0M317.6 294.9h0M317.9 294.7h0M318.5 295.2h0M318.4 294.2h0M318.3 293.4h0M318.8 293.6h0M319.1 293.4h0M319.3 293.1h0M320.0 293.8h0M320.0 293.1h0M320.0 292.3h0M320.9 293.4h0M321.0 292.9h0M321.4 292.9h0M321.7 292.7h0M322.1 292.8h0M322.2 292.3h0M322.8 292.7h0M322.9 292.2h0M323.2 292.0h0M323.5 291.9h0M323.3 290.8h0M324.0 291.3h0M324.2 291.2h0M324.7 291.3h0M324.6 290.4h0M325.7 291.7h0M325.6 290.9h0M325.6 290.1h0M325.8 289.8h0M326.4 290.4h0M326.8 290.4h0M327.0 290.0h0M327.5 290.3h0M327.6 289.8h0M328.2 290.3h0M328.2 289.5h0M328.7 289.7h0M329.3 290.1h0M330.0 290.7h0M329.3 288.8h0M329.8 288.9h0M329.9 288.5h0M330.6 289.2h0M330.4 288.0h0M330.9 288.1h0M331.2 288.2h0M331.3 287.5h0M331.5 287.3h0M331.9 287.3h0M331.8 286.3h0M332.2 286.5h0M332.7 286.8h0M333.2 286.8h0M333.3 286.5h0M333.2 285.5h0M333.8 286.0h0M334.5 286.5h0M334.7 286.2h0M334.8 285.7h0M334.9 285.2h0M335.6 285.8h0M335.6 285.1h0M335.8 284.7h0M336.2 284.8h0M337.1 285.8h0M337.1 285.0h0M337.6 285.4h0M337.5 284.5h0M338.2 285.0h0M338.1 284.1h0M338.5 284.2h0M339.5 285.4h0M339.3 284.4h0M339.3 283.6h0M339.7 283.6h0M340.0 283.6h0M340.5 283.8h0M340.4 282.8h0M340.3 281.9h0M340.9 282.4h0M341.3 282.4h0M341.1 281.3h0M342.1 282.5h0M342.1 281.8h0M342.5 281.9h0M342.3 280.7h0M343.0 281.5h0M343.6 281.9h0M343.5 281.0h0M343.7 280.6h0M343.9 280.3h0M344.6 281.0h0M344.2 279.5h0M344.7 279.7h0M345.2 279.8h0M345.5 279.8h0M345.5 279.1h0M346.0 279.4h0M346.2 279.0h0M346.6 279.0h0M346.9 278.8h0M346.9 278.2h0M347.5 278.6h0M348.0 278.9h0M347.9 277.9h0M348.4 278.2h0M348.9 278.5h0M348.8 277.6h0M349.4 278.1h0M349.5 277.3h0M350.3 278.3h0M350.9 278.8h0M351.1 278.5h0M350.9 277.3h0M351.4 277.6h0M351.6 277.2h0M351.9 277.0h0M352.5 277.6h0M352.2 276.1h0M353.0 277.1h0M353.1 276.4h0M353.7 277.0h0M353.7 276.3h0M353.8 275.8h0M354.4 276.1h0M354.8 276.2h0M354.9 275.7h0M355.4 275.8h0M355.4 275.2h0M355.3 274.3h0M356.4 275.7h0M356.6 275.5h0M356.8 275.1h0M357.1 274.9h0M357.6 275.3h0M357.6 274.4h0M358.1 274.7h0M358.2 274.2h0M358.9 274.8h0M358.6 273.4h0M359.5 274.5h0M359.3 273.4h0M359.5 273.0h0M360.3 274.0h0M360.3 273.2h0M360.3 272.5h0M360.8 272.8h0M361.4 273.3h0M361.8 273.2h0M361.7 272.3h0M362.2 272.6h0M362.6 272.6h0M362.6 271.8h0M363.1 272.1h0M363.3 271.8h0M363.5 271.4h0M363.8 271.4h0M364.3 271.5h0M364.6 271.4h0M364.8 271.0h0M365.1 271.0h0M365.8 271.6h0M365.9 271.1h0M366.3 271.3h0M366.7 271.4h0M366.9 271.0h0M367.6 271.7h0M367.2 270.1h0M367.9 270.8h0M368.0 270.1h0M368.8 271.1h0M369.1 270.9h0M368.5 269.0h0M369.1 269.3h0M369.7 270.0h0M370.1 270.0h0M370.4 269.8h0M370.5 269.3h0M370.9 269.4h0M371.2 269.3h0M371.4 268.8h0M371.9 269.3h0M371.5 267.5h0M372.4 268.8h0M372.4 267.8h0M373.1 268.7h0M373.1 267.9h0M373.3 267.5h0M373.9 268.0h0M373.9 267.2h0M374.2 267.1h0M374.4 266.6h0M375.0 267.2h0M375.4 267.3h0M375.8 267.5h0M375.9 266.7h0M376.4 267.2h0M376.5 266.5h0M376.8 266.3h0M377.2 266.5h0M377.6 266.6h0M377.6 265.7h0M377.9 265.6h0M378.2 265.5h0M378.6 265.5h0M378.7 264.9h0M379.4 265.7h0M379.4 264.8h0M379.9 265.1h0M379.9 264.4h0M380.4 264.8h0M380.7 264.7h0M380.9 264.2h0M381.7 265.3h0M381.7 264.3h0M382.3 264.9h0M382.4 264.3h0M382.3 263.4h0M382.7 263.4h0M383.2 263.7h0M383.4 263.3h0M383.7 263.2h0M383.9 262.9h0M383.9 262.0h0M384.5 262.7h0M384.4 261.5h0M385.3 262.7h0M385.3 262.0h0M385.7 261.9h0M386.1 262.0h0M386.5 262.1h0M386.4 261.2h0M386.7 260.9h0M387.1 261.1h0M387.2 260.5h0M387.7 260.9h0M388.6 262.1h0M388.3 260.6h0M389.0 261.4h0M388.9 260.2h0M389.6 261.0h0M389.7 260.5h0M390.1 260.5h0M390.5 260.7h0M391.1 261.2h0M391.1 260.3h0M391.4 260.2h0M391.4 259.5h0M392.1 260.2h0M392.2 259.6h0M392.8 260.1h0M392.9 259.5h0M393.6 260.3h0M393.1 258.3h0M393.8 259.0h0M394.0 258.8h0M394.4 258.8h0M394.6 258.4h0M395.0 258.6h0M395.1 257.9h0M395.7 258.5h0M396.5 259.6h0M396.5 258.8h0M396.4 257.5h0M396.7 257.5h0M397.1 257.6h0M397.7 258.2h0M397.4 256.5h0M398.0 257.1h0M398.6 257.8h0M398.9 257.6h0M398.9 256.9h0M399.1 256.3h0M399.3 256.0h0M399.8 256.3h0M399.7 255.4h0M400.7 256.7h0M400.7 255.9h0M401.2 256.3h0M401.9 256.9h0M402.0 256.4h0M401.8 255.1h0M402.5 256.0h0M402.9 256.0h0M402.8 255.0h0M403.1 254.7h0M403.6 255.0h0M403.5 254.2h0M404.5 255.6h0M404.4 254.6h0M404.6 254.1h0M405.1 254.4h0M405.4 254.3h0M405.8 254.4h0M406.2 254.3h0M406.4 254.0h0M407.0 254.5h0M406.5 252.8h0M407.3 253.7h0M407.5 253.3h0M408.0 253.6h0M408.3 253.5h0M408.4 252.8h0M408.7 252.8h0M409.4 253.4h0M409.6 253.1h0M409.7 252.5h0M410.6 253.7h0M411.0 253.7h0M410.4 251.7h0M411.0 252.3h0M411.9 253.4h0M411.8 252.4h0M412.0 252.0h0M412.2 251.6h0M412.4 251.3h0M412.8 251.3h0M413.0 250.9h0M413.5 251.4h0M413.5 250.6h0M413.8 250.4h0M413.9 249.8h0M414.4 250.2h0M414.5 249.5h0M414.9 249.7h0M415.5 250.0h0M415.6 249.5h0M415.9 249.3h0M416.1 249.0h0M416.3 248.7h0M416.5 248.4h0M416.7 248.1h0M417.3 248.4h0M417.1 247.3h0M417.9 248.3h0M417.9 247.5h0M418.0 246.9h0M418.3 246.9h0M418.6 246.6h0M419.1 246.9h0M419.2 246.3h0M419.9 247.1h0M419.7 246.0h0M419.7 245.1h0M420.3 245.7h0M420.3 244.9h0M421.1 245.8h0M421.7 246.2h0M421.9 245.9h0M421.7 244.8h0M422.2 244.9h0M423.1 246.1h0M423.0 245.2h0M423.3 244.9h0M423.8 245.3h0M424.5 245.9h0M424.5 245.2h0M424.5 244.5h0M424.9 244.5h0M425.3 244.5h0M425.3 243.8h0M425.5 243.4h0M426.1 243.8h0M426.1 243.2h0M426.6 243.5h0M427.0 243.5h0M427.8 244.4h0M427.3 242.7h0M427.8 242.9h0M428.1 242.8h0M428.5 242.9h0M429.0 243.1h0M429.7 243.8h0M429.1 241.9h0M429.2 241.3h0M429.7 241.5h0M430.3 242.1h0M430.5 241.7h0M430.5 241.0h0M431.0 241.2h0M431.4 241.2h0M431.8 241.3h0M431.8 240.6h0M432.2 240.6h0M432.1 239.7h0M432.5 239.8h0M433.5 241.0h0M432.9 239.0h0M433.6 239.7h0M434.0 239.8h0M434.2 239.4h0M434.3 239.0h0M434.8 239.2h0M435.1 239.1h0M435.4 238.8h0M435.2 237.8h0M435.9 238.5h0M436.0 238.0h0M436.4 237.9h0M436.9 238.2h0M437.3 238.2h0M437.6 238.2h0M437.5 237.3h0M438.2 237.8h0M438.5 237.8h0M438.8 237.6h0M439.2 237.6h0M439.1 236.7h0M439.4 236.5h0M439.9 236.9h0M439.7 235.6h0M440.4 236.3h0M440.5 235.8h0M440.8 235.7h0M440.8 234.9h0M441.3 235.2h0M441.8 235.5h0M442.3 235.8h0M442.7 235.7h0M442.7 235.1h0M443.0 234.9h0M443.1 234.4h0M443.7 234.9h0M443.9 234.4h0M444.4 234.7h0M445.0 235.1h0M444.8 234.1h0M444.8 233.2h0M445.2 233.4h0M445.3 233.0h0M445.7 232.9h0M446.6 234.0h0M446.6 233.3h0M446.5 232.3h0M447.3 233.2h0M447.8 233.4h0M447.7 232.5h0M447.9 232.2h0M448.3 232.2h0M448.7 232.4h0M449.1 232.4h0M449.6 232.6h0M449.9 232.5h0M450.2 232.3h0M450.6 232.3h0M450.7 231.8h0M450.5 230.7h0M451.1 231.2h0M451.6 231.3h0M451.7 230.9h0M452.3 231.4h0M452.3 230.7h0M452.5 230.3h0M453.4 231.3h0M453.5 230.8h0M453.7 230.4h0M454.2 230.7h0M454.5 230.6h0M454.6 230.1h0M454.2 228.6h0M455.0 229.3h0M455.3 229.3h0M455.5 228.9h0M456.1 229.3h0M456.6 229.7h0M456.5 228.7h0M456.7 228.3h0M457.7 229.7h0M457.4 228.3h0M457.5 227.8h0M458.2 228.4h0M458.5 228.3h0M458.6 227.6h0M459.2 228.2h0M459.2 227.4h0M459.4 227.1h0M460.0 227.5h0M460.4 227.6h0M460.4 226.8h0M460.9 227.1h0M461.1 226.7h0M462.1 228.0h0M461.5 226.1h0M462.3 227.0h0M462.2 226.1h0M462.5 225.9h0M463.0 226.1h0M463.3 226.1h0M463.7 226.1h0M463.7 225.4h0M462.2 221.4h0M464.1 224.6h0M464.6 224.9h0M464.9 224.8h0M465.4 225.0h0M465.4 224.3h0M465.8 224.4h0M466.2 224.5h0M466.2 223.6h0M466.0 222.6h0M466.4 222.6h0M466.6 222.2h0M467.6 223.6h0M467.3 222.2h0M468.1 223.1h0M468.2 222.6h0M468.8 223.0h0M468.9 222.5h0M469.0 221.8h0M469.6 222.4h0M469.6 221.7h0M470.0 221.6h0M470.1 221.2h0M470.6 221.3h0M471.3 222.0h0M470.8 220.3h0M471.6 221.1h0M471.6 220.4h0M472.2 220.9h0M472.6 221.1h0M472.7 220.5h0M473.2 220.8h0M473.0 219.5h0M473.9 220.7h0M473.8 219.7h0M474.4 220.2h0M474.6 219.8h0M474.3 218.3h0M475.0 219.1h0M475.5 219.4h0M476.1 220.0h0M476.1 219.2h0M476.7 219.7h0M476.4 218.1h0M477.3 219.4h0M477.7 219.4h0M477.6 218.4h0M477.8 218.2h0M477.8 217.3h0M478.7 218.5h0M479.4 219.3h0M479.3 218.1h0M479.7 218.3h0M479.8 217.8h0M479.8 216.9h0M480.6 217.9h0M480.4 216.5h0M480.9 216.9h0M481.3 217.0h0M481.7 217.1h0M481.9 216.8h0M482.2 216.6h0M482.3 215.9h0M482.4 215.5h0M483.0 216.0h0M483.2 215.5h0M483.3 215.1h0M483.7 215.0h0M484.1 215.3h0M484.2 214.5h0M484.6 214.6h0M484.8 214.4h0M485.6 215.2h0M485.9 215.2h0M486.6 215.9h0M486.2 214.1h0M486.7 214.4h0M487.3 215.1h0M487.4 214.5h0M487.7 214.3h0M488.4 215.2h0M488.3 214.1h0M488.4 213.6h0M488.7 213.3h0M489.4 214.0h0M489.7 213.9h0M489.6 212.9h0M490.0 212.9h0M490.6 213.5h0M490.9 213.4h0M490.0 210.4h0M491.4 213.0h0M491.7 212.8h0M491.5 211.4h0M492.1 212.0h0M492.5 212.2h0M492.6 211.5h0M492.6 210.6h0M493.3 211.3h0M493.8 211.7h0M494.2 212.0h0M493.8 209.9h0M495.0 212.2h0M494.6 210.2h0M495.3 211.1h0M495.7 211.2h0M495.9 210.9h0M496.1 210.4h0M496.1 209.6h0M496.8 210.4h0M496.8 209.6h0M496.8 208.6h0M498.2 211.2h0M498.1 210.0h0M498.6 210.5h0M498.4 209.0h0M499.1 210.1h0M499.5 210.0h0M499.8 209.9h0M499.8 208.9h0M499.8 208.2h0M500.3 208.6h0M500.3 207.4h0M500.7 207.5h0M501.3 208.3h0M501.4 207.7h0M501.9 208.0h0M502.2 207.9h0M502.9 208.8h0M503.1 208.4h0M503.2 207.6h0M503.7 208.2h0M503.7 207.0h0M504.1 207.2h0M504.6 207.7h0M504.5 206.5h0M505.0 206.9h0M505.2 206.3h0M505.7 207.0h0M506.3 207.6h0M506.2 206.3h0M506.7 206.7h0M506.8 206.0h0M507.1 205.8h0M507.4 205.6h0M508.2 206.9h0M508.6 207.3h0M508.6 206.2h0M508.1 203.5h0M509.3 206.0h0M509.4 205.4h0M509.9 205.8h0M510.1 205.4h0M510.4 205.3h0M510.8 205.4h0M510.9 204.6h0M511.2 204.6h0M511.3 203.8h0M511.8 204.3h0M512.0 203.7h0M512.5 204.3h0M512.7 203.7h0M513.2 204.2h0M513.6 204.3h0M513.6 203.2h0M514.0 203.4h0M514.3 203.3h0M514.9 204.1h0M515.4 204.5h0M515.6 204.0h0M515.7 203.3h0M516.3 204.2h0M516.2 202.6h0M517.0 204.1h0M516.9 202.9h0M516.9 201.8h0M518.1 204.6h0M518.3 204.0h0M518.2 202.5h0M518.7 203.1h0M519.3 204.0h0M519.4 203.0h0M519.5 202.1h0M519.9 202.4h0M520.4 203.0h0M520.7 202.8h0M521.2 203.2h0M521.3 202.5h0M522.0 203.6h0M521.8 201.9h0M522.3 202.3h0M522.3 201.1h0M522.7 201.4h0M523.4 202.6h0M523.4 201.3h0M523.9 202.0h0M524.1 201.6h0M524.3 201.0h0M524.7 201.3h0M525.0 201.1h0M525.4 201.1h0M525.9 201.7h0M526.2 201.5h0M526.3 200.8h0M526.6 200.5h0M527.1 201.1h0M527.3 200.8h0M527.8 201.3h0M528.4 202.0h0M528.4 200.9h0M528.6 200.4h0M528.9 200.1h0M528.7 198.0h0M529.4 199.5h0M529.7 199.3h0M530.1 199.4h0M530.4 199.3h0M530.8 199.7h0M531.0 199.0h0M531.3 198.9h0M531.4 198.2h0M532.1 199.6h0M532.3 198.9h0M532.8 199.4h0M533.0 198.8h0M533.4 199.0h0M533.4 198.0h0M533.9 198.4h0M534.5 199.4h0M534.3 197.2h0M534.9 198.4h0M535.3 198.7h0M535.5 197.9h0M535.8 198.1h0M536.3 198.3h0M536.3 197.3h0M536.8 197.8h0M537.0 197.1h0M537.3 197.2h0M537.7 197.2h0M538.1 197.4h0M538.4 197.6h0M538.8 197.7h0M538.9 196.7h0M539.7 198.5h0M539.9 198.0h0M540.2 197.7h0M540.4 197.1h0M540.7 197.2h0M541.1 197.5h0M541.4 197.4h0M541.5 196.1h0M542.1 197.4h0M542.7 198.5h0M542.5 195.9h0M543.1 197.3h0M543.4 196.9h0M543.6 196.6h0M544.2 197.3h0M544.2 195.9h0M544.6 196.5h0M545.1 197.2h0M545.2 196.2h0M545.5 196.0h0M545.9 196.2h0M546.2 195.9h0M546.8 196.9h0M546.8 195.5h0M547.3 196.5h0M547.4 195.2h0M548.0 196.3h0M548.2 195.8h0M548.2 194.4h0M548.9 195.8h0M549.1 195.2h0M549.5 195.5h0M550.0 196.5h0M550.1 195.0h0M550.4 195.0h0M551.0 196.3h0M551.2 195.5h0M551.7 196.2h0M551.8 195.5h0M552.0 194.7h0M552.4 195.1h0M552.9 195.7h0M553.2 195.5h0M553.4 194.9h0M553.7 194.8h0M554.0 194.6h0M554.3 194.2h0M554.9 195.5h0M555.0 194.3h0M555.2 193.6h0M555.6 193.9h0M556.0 194.4h0M556.3 194.3h0M556.5 193.7h0M556.8 193.4h0M557.2 193.7h0M557.3 192.6h0M557.7 192.8h0M558.3 193.9h0M558.4 193.1h0M558.9 193.5h0M559.3 193.9h0M559.5 193.5h0M559.8 193.1h0M560.3 194.3h0M560.5 193.4h0M560.7 192.8h0M561.2 193.4h0M561.5 193.2h0M561.7 192.5h0M562.1 193.0h0M562.4 192.8h0M562.6 191.8h0M563.1 192.8h0M563.4 192.8h0M563.7 192.7h0M563.9 192.0h0M564.4 192.7h0M564.8 192.9h0M565.1 192.9h0M565.3 192.2h0M565.8 193.1h0M566.0 192.1h0M566.4 192.6h0M566.9 193.4h0M567.0 192.2h0M567.3 192.2h0M567.8 193.0h0M567.8 191.0h0M568.3 192.0h0M568.7 192.1h0M569.1 192.5h0M569.1 190.5h0M569.5 191.2h0M569.8 190.9h0M570.1 190.7h0M570.4 190.7h0M570.7 190.6h0M571.2 191.1h0M571.4 190.3h0M571.8 190.7h0M572.1 190.8h0M572.3 190.0h0M572.7 190.4h0M573.2 191.2h0M573.4 190.3h0M573.6 189.7h0M574.0 190.0h0M574.2 189.4h0M574.7 190.0h0M575.1 190.3h0M575.2 189.3h0M575.6 189.6h0M576.1 190.2h0M576.2 189.3h0M576.6 189.6h0M576.8 188.9h0M577.3 189.8h0M577.5 189.1h0M578.1 190.5h0M578.2 189.0h0M578.5 188.9h0M578.8 188.9h0M579.2 189.0h0M579.5 188.9h0M579.9 189.1h0M580.4 190.1h0M580.5 189.0h0M581.0 189.7h0M581.2 189.0h0M581.6 189.1h0M581.7 188.0h0M582.2 188.7h0M582.5 188.7h0M582.8 188.5h0M583.0 187.5h0M583.6 189.1h0M583.8 188.3h0M584.1 188.3h0M584.4 188.3h0M584.8 188.3h0M585.2 188.6h0M585.3 187.6h0M585.7 187.8h0M586.1 188.4h0M586.4 188.2h0M586.7 187.9h0M587.0 187.7h0M587.3 187.5h0M587.7 187.9h0M588.2 188.5h0M588.3 187.3h0M588.8 188.6h0M589.1 188.2h0M589.3 187.5h0M589.8 188.1h0M589.9 186.9h0M590.2 186.7h0M590.6 186.9h0M591.0 187.4h0M591.3 187.4h0M591.6 187.3h0M592.0 187.6h0M592.2 186.4h0M592.7 187.9h0M592.9 186.8h0M593.3 187.2h0M593.6 187.3h0M593.9 186.9h0M594.2 186.8h0M594.6 186.9h0M595.0 187.5h0M595.4 187.8h0M595.7 187.7h0M595.9 186.8h0M596.3 186.9h0M596.6 186.8h0M597.0 187.5h0M597.1 186.0h0M597.7 187.8h0M597.9 186.8h0M598.2 186.5h0M598.6 187.1h0M599.0 187.4h0M599.3 186.9h0M599.6 187.3h0M599.9 186.7h0M600.3 187.2h0M600.6 187.2h0M600.9 186.4h0M601.3 187.2h0M601.5 186.4h0M601.9 186.4h0M602.1 185.8h0M602.5 186.1h0M602.9 186.6h0M603.1 185.5h0M603.5 186.5h0M603.9 186.4h0M604.2 186.3h0M604.3 185.0h0M604.8 186.1h0M605.2 186.5h0M605.4 185.7h0M605.8 186.1h0M606.0 184.8h0M606.5 186.4h0M606.8 185.6h0M607.2 186.4h0M607.3 184.9h0M607.8 186.2h0M608.1 185.6h0M608.5 186.1h0M608.7 185.1h0M609.0 185.2h0M609.5 186.6h0M609.7 184.9h0M610.0 184.9h0M610.3 185.1h0M610.6 184.6h0M611.1 185.7h0M611.5 185.9h0M611.6 184.6h0M611.9 184.0h0M612.4 185.5h0M612.7 185.4h0M613.0 185.2h0M613.4 185.4h0M613.6 184.3h0M614.0 184.7h0M614.2 184.0h0M614.5 184.0h0M615.0 185.2h0M615.3 184.4h0M615.8 185.9h0M616.0 184.7h0M616.2 184.4h0M616.7 185.1h0M617.1 185.6h0M617.3 184.9h0M617.5 184.0h0M618.0 184.8h0M618.4 185.3h0M618.6 184.3h0M618.9 184.2h0M619.3 185.0h0M619.6 184.6h0M619.9 183.9h0M620.2 184.2h0M620.5 184.0h0M620.9 184.5h0M621.2 184.3h0M621.6 184.8h0M621.9 184.5h0M622.1 183.4h0M622.6 184.3h0M622.9 184.5h0M623.2 184.2h0M623.6 184.4h0M623.8 183.6h0M624.1 183.3h0M624.5 184.2h0M624.8 183.1h0M625.0 182.6h0M625.5 184.0h0M625.7 183.1h0M626.1 183.3h0M626.4 182.7h0M626.7 182.6h0M627.0 182.6h0M627.4 183.0h0M627.8 183.2h0M627.9 181.9h0M628.4 183.3h0M628.6 182.3h0M629.0 182.3h0M629.4 183.1h0M629.7 182.6h0M629.9 181.9h0M630.4 183.4h0M630.6 182.1h0M631.0 182.6h0M631.3 182.5h0M631.7 183.0h0M632.0 182.1h0M632.4 182.8h0M632.6 181.9h0M633.0 182.8h0M633.3 181.9h0M633.6 182.0h0M634.1 183.0h0M634.3 182.3h0M634.6 182.2h0M635.1 183.7h0M635.3 182.2h0M635.6 181.7h0M636.0 182.3h0M636.2 181.4h0M636.6 182.4h0M637.0 182.5h0M637.2 181.6h0M637.5 181.6h0M637.9 181.9h0M638.2 181.8h0M638.5 181.3h0M638.9 182.0h0M639.1 180.8h0M639.5 181.5h0M639.9 181.5h0M640.2 181.5h0M640.6 181.8h0M640.8 181.1h0M641.2 181.8h0M641.5 181.5h0M641.8 181.2h0M642.1 180.9h0M642.5 180.9h0M642.9 181.6h0M643.1 181.0h0M643.5 181.4h0M643.9 181.8h0M644.2 181.7h0M644.6 181.9h0M644.8 181.0h0M645.1 180.6h0M645.5 181.5h0M645.8 181.1h0M646.2 181.4h0M646.4 180.9h0M646.8 181.3h0M647.1 181.1h0M647.4 181.0h0M647.8 180.9h0M648.1 180.8h0M648.4 180.7h0M648.7 180.7h0M649.1 181.0h0M649.4 180.3h0M649.8 181.2h0M650.0 180.4h0M650.4 180.9h0M650.7 180.4h0M651.0 180.3h0M651.5 181.3h0M651.7 180.3h0M652.0 179.9h0M652.3 180.1h0M652.7 180.2h0M653.1 181.2h0M653.4 180.4h0M653.7 180.7h0M654.0 179.8h0M654.4 180.4h0M654.7 180.5h0M655.1 180.9h0M655.3 179.8h0M655.7 180.3h0M656.0 180.2h0M656.3 179.6h0M656.6 180.0h0M657.0 179.8h0M657.2 179.0h0M657.7 180.1h0M658.0 180.0h0M658.3 179.6h0M658.5 179.2h0M659.0 180.3h0M659.3 179.7h0M659.6 180.0h0M660.0 180.1h0M660.2 179.2h0M660.6 179.7h0M660.9 179.2h0M661.2 179.2h0M661.5 179.2h0M661.9 179.1h0M662.2 179.5h0M662.5 179.0h0M662.8 178.9h0M663.1 178.7h0M663.5 178.9h0M663.8 178.4h0M664.1 178.5h0M664.5 178.6h0M664.8 178.3h0M665.1 178.5h0M665.4 178.2h0M665.9 179.2h0M666.0 177.5h0M666.5 178.5h0M666.8 178.3h0M667.2 179.2h0M667.4 178.4h0M667.7 178.3h0M668.1 178.4h0M668.4 178.4h0M668.8 178.8h0M669.1 178.2h0M669.5 179.0h0M669.7 177.9h0M670.1 178.5h0M670.4 177.8h0M670.8 178.8h0M671.0 178.0h0M671.4 178.1h0M671.8 178.5h0M672.1 178.6h0M672.3 177.7h0M672.7 177.9h0M673.0 177.5h0M673.4 178.1h0M673.7 178.0h0M674.0 177.9h0M674.3 177.7h0M674.7 177.8h0M675.0 177.7h0M675.4 178.1h0M675.7 178.4h0M675.9 177.2h0M676.3 177.8h0M676.7 177.7h0M677.0 178.0h0M677.3 177.5h0M677.7 177.7h0M678.0 177.4h0M678.4 178.0h0M678.7 177.8h0M679.0 177.6h0M679.3 177.8h0M679.6 177.5h0M679.9 177.0h0M680.3 177.8h0M680.6 177.6h0M680.9 177.4h0M681.3 177.7h0M681.7 177.8h0M681.9 176.9h0M682.2 177.0h0M682.6 177.7h0M683.0 177.6h0M683.2 176.8h0M683.5 176.6h0M683.9 176.7h0M684.2 176.7h0M684.5 176.3h0M684.9 176.8h0M685.1 176.3h0M685.5 176.2h0M685.9 176.9h0M686.1 176.3h0M686.5 176.5h0M686.9 176.7h0M687.2 176.8h0M687.5 176.4h0M687.8 176.5h0M688.1 176.2h0M688.6 177.0h0M688.8 176.6h0M689.1 176.0h0M689.5 176.4h0M689.8 176.6h0M690.2 176.5h0M690.5 176.9h0M690.8 176.7h0M691.1 176.1h0M691.5 176.2h0M691.7 175.8h0M692.1 176.2h0M692.4 176.2h0M692.9 176.9h0M693.1 176.1h0M693.3 175.4h0M693.7 175.8h0M694.1 176.0h0M694.4 175.5h0M694.7 175.6h0M695.1 175.7h0M695.4 175.9h0M695.8 176.0h0M696.0 175.4h0M696.4 175.9h0M696.7 175.4h0M697.2 176.9h0M697.3 175.1h0M697.7 175.2h0M698.0 175.6h0M698.3 174.9h0M698.7 175.3h0M699.0 175.5h0M699.3 175.1h0M699.7 175.3h0M699.9 174.8h0M700.4 175.5h0M700.7 175.4h0M701.0 175.1h0M701.2 174.5h0M701.6 174.6h0M702.0 175.2h0M702.3 175.4h0M702.6 174.9h0M703.0 175.1h0M703.2 174.5h0M703.6 174.6h0M703.9 174.6h0M704.2 174.7h0M704.5 174.0h0M704.9 174.7h0M705.3 174.7h0M705.5 174.0h0M705.8 173.8h0M706.2 174.3h0M706.5 173.9h0M706.7 173.3h0M707.2 174.2h0M707.5 173.9h0M707.8 173.7h0M708.2 174.3h0M708.5 173.7h0M708.7 173.4h0M709.1 173.5h0M709.4 173.1h0M709.7 173.2h0M710.1 173.4h0M710.4 173.1h0M710.7 173.0h0M711.1 173.6h0M711.4 173.3h0M711.7 173.2h0M712.0 173.1h0M712.4 173.0h0M712.7 173.2h0M713.0 172.8h0M713.4 173.2h0M713.6 172.4h0M714.0 172.6h0M714.3 172.3h0M714.6 172.5h0M715.0 172.7h0M715.4 173.0h0M715.6 172.4h0M716.0 172.6h0M716.3 172.5h0M716.6 172.3h0M716.9 172.2h0M717.3 172.5h0M717.6 172.0h0M718.0 172.5h0M718.3 172.5h0M718.6 172.3h0M718.9 172.2h0M719.2 172.0h0M719.7 172.9h0M719.9 172.0h0M720.3 172.7h0M720.6 172.4h0M720.9 172.1h0M721.2 171.8h0M721.6 172.3h0M722.0 172.5h0M722.2 171.7h0M722.5 171.8h0M722.9 172.1h0M723.2 171.8h0M723.6 172.2h0M723.8 171.4h0M724.2 171.6h0M724.4 171.1h0M724.9 171.9h0M725.1 171.1h0M725.4 170.6h0M725.8 171.1h0M726.1 171.0h0M726.5 171.5h0M726.7 170.8h0M727.1 170.8h0M727.4 170.9h0M727.8 171.1h0M728.0 170.7h0M728.4 170.9h0M728.7 170.7h0" stroke="#4070C2" stroke-width="10.8" stroke-linecap="round" fill="none"/>
<circle cx="807.9" cy="37.2" r="5" fill="#4070C2"/>
<g fill="none" stroke-width="5.46" stroke-linecap="round">
<path d="M773.5 169.9H842.3" stroke="#4070C2" stroke-dasharray="16.38 21.84"/>
<path d="M773.5 302.5H842.3" stroke="#5DB050" stroke-dasharray="16.38 21.84 0 21.84"/>
<path d="M773.5 435.4H842.3" stroke="#6430A3" stroke-dasharray="38.22 21.84"/>
</g>
<g font-family="'Liberation Sans', Arial, sans-serif" fill="#000">
<text x="49.3" y="18.0" font-size="22.3" textLength="43.8" lengthAdjust="spacingAndGlyphs">0.05</text>
<text x="36.8" y="61.2" font-size="22.3" textLength="56.2" lengthAdjust="spacingAndGlyphs">0.045</text>
<text x="49.3" y="104.4" font-size="22.3" textLength="43.8" lengthAdjust="spacingAndGlyphs">0.04</text>
<text x="36.8" y="147.6" font-size="22.3" textLength="56.2" lengthAdjust="spacingAndGlyphs">0.035</text>
<text x="49.3" y="190.8" font-size="22.3" textLength="43.8" lengthAdjust="spacingAndGlyphs">0.03</text>
<text x="36.8" y="234.0" font-size="22.3" textLength="56.2" lengthAdjust="spacingAndGlyphs">0.025</text>
<text x="49.3" y="277.2" font-size="22.3" textLength="43.8" lengthAdjust="spacingAndGlyphs">0.02</text>
<text x="36.8" y="320.4" font-size="22.3" textLength="56.2" lengthAdjust="spacingAndGlyphs">0.015</text>
<text x="49.3" y="363.6" font-size="22.3" textLength="43.8" lengthAdjust="spacingAndGlyphs">0.01</text>
<text x="36.8" y="406.8" font-size="22.3" textLength="56.2" lengthAdjust="spacingAndGlyphs">0.005</text>
<text x="80.6" y="450.0" font-size="22.3" textLength="12.5" lengthAdjust="spacingAndGlyphs">0</text>
<text x="109.8" y="482.3" font-size="22.3" textLength="12.5" lengthAdjust="spacingAndGlyphs">0</text>
<text x="212.6" y="482.3" font-size="22.3" textLength="12.5" lengthAdjust="spacingAndGlyphs">4</text>
<text x="315.4" y="482.3" font-size="22.3" textLength="12.5" lengthAdjust="spacingAndGlyphs">8</text>
<text x="412.0" y="482.3" font-size="22.3" textLength="25.0" lengthAdjust="spacingAndGlyphs">12</text>
<text x="514.8" y="482.3" font-size="22.3" textLength="25.0" lengthAdjust="spacingAndGlyphs">16</text>
<text x="617.7" y="482.3" font-size="22.3" textLength="25.0" lengthAdjust="spacingAndGlyphs">20</text>
<text x="720.5" y="482.3" font-size="22.3" textLength="25.0" lengthAdjust="spacingAndGlyphs">24</text>
<text x="380.0" y="522.9" font-size="24.6" textLength="87.8" lengthAdjust="spacingAndGlyphs">time (h)</text>
<g transform="translate(21.4 357.0) rotate(-90)">
<text x="0" y="0" font-size="24.6" textLength="33" lengthAdjust="spacingAndGlyphs">CO</text>
<text x="32.0" y="7.0" font-size="17.6" textLength="9.8" lengthAdjust="spacingAndGlyphs">2</text>
<text x="48.9" y="0" font-size="24.6" textLength="210.3" lengthAdjust="spacingAndGlyphs">consumption (mol)</text>
</g>
<text x="850.1" y="44.8" font-size="24.6" textLength="101.5" lengthAdjust="spacingAndGlyphs">exp. data</text>
<text x="850.6" y="176.7" font-size="24.6" textLength="70.0" lengthAdjust="spacingAndGlyphs">hybrid</text>
<text x="850.6" y="209.9" font-size="24.6" textLength="131.6" lengthAdjust="spacingAndGlyphs">regime with</text>
<text x="850.6" y="243.1" font-size="24.6" textLength="120.6" lengthAdjust="spacingAndGlyphs">Rcrit=5 µm</text>
<text x="850.6" y="309.2" font-size="24.6" textLength="70.0" lengthAdjust="spacingAndGlyphs">hybrid</text>
<text x="850.6" y="342.4" font-size="24.6" textLength="131.6" lengthAdjust="spacingAndGlyphs">regime with</text>
<text x="850.6" y="375.6" font-size="24.6" textLength="134.2" lengthAdjust="spacingAndGlyphs">Rcrit=10 µm</text>
<text x="850.6" y="441.7" font-size="24.6" textLength="70.0" lengthAdjust="spacingAndGlyphs">hybrid</text>
<text x="850.6" y="474.9" font-size="24.6" textLength="131.6" lengthAdjust="spacingAndGlyphs">regime with</text>
<text x="850.6" y="508.1" font-size="24.6" textLength="134.2" lengthAdjust="spacingAndGlyphs">Rcrit=15 µm</text>
</g>
</svg>
</body></html>
